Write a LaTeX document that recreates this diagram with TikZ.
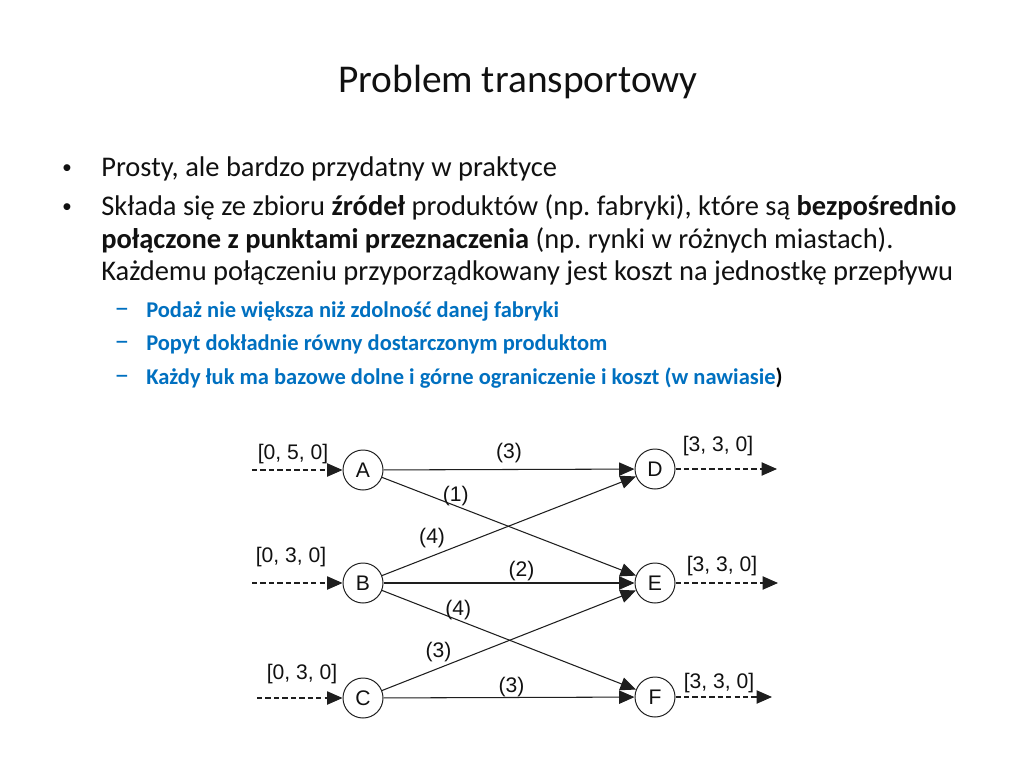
\documentclass[tikz,border=0pt]{standalone}
\usepackage{fontspec}
\setmainfont{Carlito}
\newfontfamily\arialfont{Liberation Sans}
\usetikzlibrary{arrows.meta,positioning}
\frenchspacing
\definecolor{tpBlue}{HTML}{0070C0}
\definecolor{tpInk}{HTML}{111111}
\definecolor{tpLine}{HTML}{1E1E1E}
\tikzset{
  tptitle/.style={anchor=base, inner sep=0pt, text=tpInk,
    font=\fontsize{28}{30}\selectfont},
  tpbody/.style={anchor=base west, inner sep=0pt, text=tpInk,
    font=\fontsize{20.25}{24}\selectfont},
  tpsub/.style={anchor=base west, inner sep=0pt, text=tpBlue,
    font=\bfseries\fontsize{16}{19}\selectfont},
  tpdash mark/.style={anchor=base, inner sep=0pt, text=tpBlue,
    font=\fontsize{21}{21}\selectfont},
  tpdot/.style={anchor=base, inner sep=0pt, text=tpInk,
    font=\arialfont\fontsize{18}{20}\selectfont},
  tpnode/.style={circle, draw=tpLine, line width=0.7pt, fill=white,
    minimum size=1cm, inner sep=0pt, text=tpInk,
    font=\arialfont\fontsize{15}{15}\selectfont},
  tpflow/.style={-{Triangle[length=11pt,width=9.5pt]}, draw=tpLine, line width=0.75pt},
  tpdash/.style={tpflow, dash pattern=on 3.8pt off 2.2pt},
  tpcost/.style={inner sep=1pt, yshift=-2.5pt, text=tpInk,
    font=\arialfont\fontsize{15}{15}\selectfont},
  tpbound/.style={inner sep=0pt, text=tpInk, font=\arialfont\fontsize{15}{15}\selectfont}
}

\begin{document}
\begin{tikzpicture}[x=0.025cm, y=-0.025cm]
\useasboundingbox[fill=white] (0,0) rectangle (1024,768);

% Tytuł
\node[tptitle] (title) at (518,93) {Problem transportowy};

% Punkty główne
\node[tpdot] (dot1) at (67,176) {•};
\node[tpbody] (p1) at (101,176) {Prosty, ale bardzo przydatny w praktyce};
\node[tpdot] (dot2) at (67,215) {•};
\node[tpbody] (p2a) at (101,215) {Składa się ze zbioru \textbf{źródeł} produktów (np. fabryki), które są \textbf{bezpośrednio}};
\node[tpbody] (p2b) at (101,248) {\textbf{połączone z punktami przeznaczenia} (np. rynki w różnych miastach).};
\node[tpbody] (p2c) at (101,280) {Każdemu połączeniu przyporządkowany jest koszt na jednostkę przepływu};

% Podpunkty
\node[tpdash mark] (d1) at (122,317) {--};
\node[tpsub] (s1) at (146,317) {Podaż nie większa niż zdolność danej fabryki};
\node[tpdash mark] (d2) at (122,350) {--};
\node[tpsub] (s2) at (146,350) {Popyt dokładnie równy dostarczonym produktom};
\node[tpdash mark] (d3) at (122,384) {--};
\node[tpsub] (s3) at (146,384) {Każdy łuk ma bazowe dolne i górne ograniczenie i koszt (w nawiasie\textcolor{black}{)}};

% Źródła i odbiorcy
\node[tpnode] (A) at (363,470) {A};
\node[tpnode] (B) at (363,583) {B};
\node[tpnode] (C) at (363,698) {C};
\node[tpnode] (D) at (655,469) {D};
\node[tpnode] (E) at (655,583) {E};
\node[tpnode] (F) at (655,697) {F};

% Wejścia i wyjścia
\coordinate (inA) at (252,470);
\coordinate (inB) at (252,583);
\coordinate (inC) at (257,698);
\coordinate (outD) at (777,469);
\coordinate (outE) at (778,583);
\coordinate (outF) at (772,697);
\draw[tpdash] (inA) -- (A);
\draw[tpdash] (inB) -- (B);
\draw[tpdash] (inC) -- (C);
\draw[tpdash] (D) -- (outD);
\draw[tpdash] (E) -- (outE);
\draw[tpdash] (F) -- (outF);

% Ograniczenia [dolne, górne, koszt]
\node[tpbound] (bA) at (293,454) {[0, 5, 0]};
\node[tpbound] (bB) at (291,557) {[0, 3, 0]};
\node[tpbound] (bC) at (302,674) {[0, 3, 0]};
\node[tpbound] (bD) at (718,446) {[3, 3, 0]};
\node[tpbound] (bE) at (722,566) {[3, 3, 0]};
\node[tpbound] (bF) at (719,683) {[3, 3, 0]};

% Łuki z kosztami
\draw[tpflow] (A) -- node[tpcost, pos=0.5, above=6pt] {(3)} (D);
\draw[tpflow] (A) -- node[tpcost, pos=0.29, above=1pt] {(1)} (E);
\draw[tpflow] (B) -- node[tpcost, pos=0.25, above left=3pt and -1pt] {(4)} (D);
\draw[tpflow] (B) -- node[tpcost, pos=0.55, above=3pt] {(2)} (E);
\draw[tpflow] (B) -- node[tpcost, pos=0.30, above=1pt] {(4)} (F);
\draw[tpflow] (C) -- node[tpcost, pos=0.27, above left=2pt and -2pt] {(3)} (E);
\draw[tpflow] (C) -- node[tpcost, pos=0.51, above=1.5pt] {(3)} (F);

\end{tikzpicture}
\end{document}
